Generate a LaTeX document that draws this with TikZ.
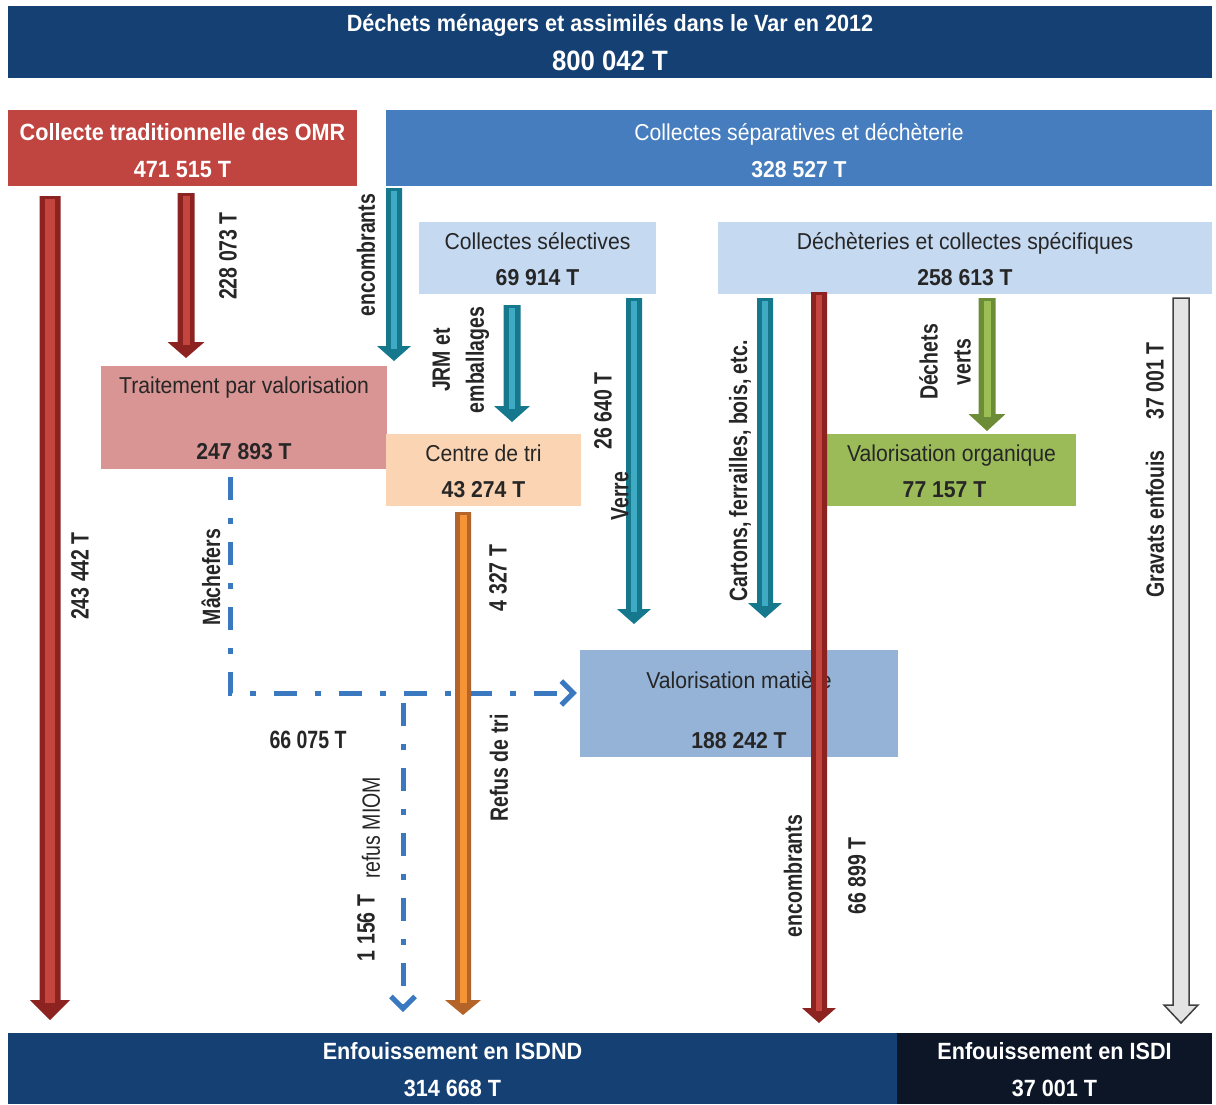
\documentclass[tikz,border=0pt]{standalone}
\usepackage{fontspec}
\setmainfont{Liberation Sans}[FakeStretch=0.92]
\newfontfamily\labfont{Liberation Sans}[FakeStretch=0.78]
\usetikzlibrary{calc,arrows.meta}
\definecolor{titleblue}{RGB}{20,64,115}
\definecolor{isdidark}{RGB}{12,22,38}
\definecolor{omrred}{RGB}{192,68,64}
\definecolor{sepblue}{RGB}{70,125,190}
\definecolor{lightblue}{RGB}{197,217,241}
\definecolor{pinkbox}{RGB}{217,149,148}
\definecolor{peach}{RGB}{251,212,180}
\definecolor{orggreen}{RGB}{155,187,89}
\definecolor{matblue}{RGB}{149,179,215}
\definecolor{txtdark}{RGB}{38,38,38}
\definecolor{dashblue}{RGB}{58,120,192}
\definecolor{redout}{RGB}{140,35,32}
\definecolor{redin}{RGB}{196,68,62}
\definecolor{tealout}{RGB}{22,120,140}
\definecolor{tealin}{RGB}{62,170,196}
\definecolor{greenout}{RGB}{108,140,55}
\definecolor{greenin}{RGB}{155,190,85}
\definecolor{orangeout}{RGB}{180,100,40}
\definecolor{orangein}{RGB}{245,148,55}
\newcommand\bxstrut[1][28]{\rule[-5pt]{0pt}{#1pt}}
% #1 start, #2 tip, #3 outer, #4 inner, #5 half shaft, #6 half head, #7 head length, #8 half inner stripe
\newcommand\blockarrow[8]{%
  \fill[#3] ($(#1)+(-#5,0)$) -- ($(#1)+(#5,0)$) -- ($(#2)+(#5,-#7)$) -- ($(#2)+(#6,-#7)$) -- (#2) -- ($(#2)+(-#6,-#7)$) -- ($(#2)+(-#5,-#7)$) -- cycle;
  \fill[#4] ($(#1)+(-#8,3)$) rectangle ($(#2)+(#8,-#7+3)$);
}
\begin{document}
\begin{tikzpicture}[x=1pt,y=-1pt,
  box/.style={rectangle, inner sep=0pt, align=center},
  lab/.style={inner sep=0pt, text=txtdark, font={\labfont\fontsize{25}{30}\selectfont\bfseries}},
  labreg/.style={inner sep=0pt, text=txtdark, font={\labfont\fontsize{25}{30}\selectfont}},
  dashdot/.style={draw=dashblue, line width=5pt, dash pattern=on 23pt off 18pt on 6pt off 18pt},
  barb/.tip={Straight Barb[length=12pt,width=24pt]}
]
\useasboundingbox (0,0) rectangle (1216,1104);

% ---------- boxes ----------
\node[box, fill=titleblue, minimum width=1204pt, minimum height=72pt, text=white,
      font=\fontsize{23.5}{39}\selectfont\bfseries] (title) at (610,42)
  {\bxstrut Déchets ménagers et assimilés dans le Var en 2012\\{\fontsize{28}{39}\selectfont 800 042 T\bxstrut}};

\node[box, fill=omrred, minimum width=349pt, minimum height=76pt, text=white,
      font=\fontsize{23.5}{37}\selectfont\bfseries] (omr) at (182.5,148)
  {\bxstrut[31]Collecte traditionnelle des OMR\\471 515 T\bxstrut};

\node[box, fill=sepblue, minimum width=826pt, minimum height=76pt, text=white,
      font=\fontsize{23}{37}\selectfont] (sep) at (799,148)
  {\bxstrut[31]Collectes séparatives et déchèterie\\\textbf{328 527 T}\bxstrut};

\node[box, fill=lightblue, minimum width=237pt, minimum height=72pt, text=txtdark,
      font=\fontsize{23}{36}\selectfont] (sel) at (537.5,258)
  {\bxstrut Collectes sélectives\\\textbf{69 914 T}\bxstrut};

\node[box, fill=lightblue, minimum width=494pt, minimum height=72pt, text=txtdark,
      font=\fontsize{23}{36}\selectfont] (dech) at (965,258)
  {\bxstrut Déchèteries et collectes spécifiques\\\textbf{258 613 T}\bxstrut};

\node[box, fill=pinkbox, minimum width=286pt, minimum height=103pt, text=txtdark,
      font=\fontsize{23}{66}\selectfont] (tv) at (244,417.5)
  {\bxstrut Traitement par valorisation\\\textbf{247 893 T}\bxstrut};

\node[box, fill=peach, minimum width=195pt, minimum height=72pt, text=txtdark,
      font=\fontsize{23}{36}\selectfont] (ct) at (483.5,470)
  {\bxstrut Centre de tri\\\textbf{43 274 T}\bxstrut};

\node[box, fill=orggreen, minimum width=249pt, minimum height=72pt, text=txtdark,
      font=\fontsize{23}{36}\selectfont] (vo) at (951.5,470)
  {\bxstrut Valorisation organique\hspace{14pt}\\\textbf{77 157 T}\hspace{14pt}\bxstrut};

\node[box, fill=matblue, minimum width=318pt, minimum height=107pt, text=txtdark,
      font=\fontsize{23}{60}\selectfont] (vm) at (739,703.5)
  {\bxstrut[39]Valorisation matière\\\textbf{188 242 T}\bxstrut};

\node[box, fill=titleblue, minimum width=889pt, minimum height=71pt, text=white,
      font=\fontsize{23.5}{37}\selectfont\bfseries] (isdnd) at (452.5,1068.5)
  {\bxstrut Enfouissement en ISDND\\314 668 T\bxstrut};

\node[box, fill=isdidark, minimum width=315pt, minimum height=71pt, text=white,
      font=\fontsize{23.5}{37}\selectfont\bfseries] (isdi) at (1054.5,1068.5)
  {\bxstrut Enfouissement en ISDI\\37 001 T\bxstrut};

% ---------- arrow end points ----------
\coordinate (a1s) at (50,196);   \coordinate (a1e) at (50,1020);
\coordinate (a2s) at (186,193);  \coordinate (a2e) at (186,358);
\coordinate (a3s) at (394,188);  \coordinate (a3e) at (394,361);
\coordinate (a4s) at (512,305);  \coordinate (a4e) at (512,422);
\coordinate (a5s) at (634,298);  \coordinate (a5e) at (634,624);
\coordinate (a6s) at (765,298);  \coordinate (a6e) at (765,618);
\coordinate (a7s) at (819,292);  \coordinate (a7e) at (819,1023);
\coordinate (a8s) at (987,298);  \coordinate (a8e) at (987,431);
\coordinate (a9s) at (1181,298); \coordinate (a9e) at (1181,1023);
\coordinate (a10s) at (463,512); \coordinate (a10e) at (463,1015);
\coordinate (m1) at (230,477);   \coordinate (m2) at (230,693);
\coordinate (m3) at (403,703);   \coordinate (m4) at (403,1012);

% ---------- dash-dot flows ----------
\draw[dashdot, -barb, shorten >=3pt] (m1) -- (m2) -- (m2 -| vm.west);
\draw[dashdot, -barb] (m3) -- (m4);

% ---------- block arrows ----------
\blockarrow{a1s}{a1e}{redout}{redin}{10.5}{20}{20}{5}
\blockarrow{a2s}{a2e}{redout}{redin}{8.5}{18.5}{16}{3.5}
\blockarrow{a3s}{a3e}{tealout}{tealin}{8}{17}{15}{3}
\blockarrow{a4s}{a4e}{tealout}{tealin}{8.5}{18}{16}{3}
\blockarrow{a5s}{a5e}{tealout}{tealin}{8}{17}{15}{3}
\blockarrow{a6s}{a6e}{tealout}{tealin}{8}{17}{15}{3}
\blockarrow{a8s}{a8e}{greenout}{greenin}{8.5}{18.5}{17}{3.5}
\blockarrow{a10s}{a10e}{orangeout}{orangein}{8}{18}{15}{3.5}
\blockarrow{a7s}{a7e}{redout}{redin}{8}{17}{15}{3}
\filldraw[fill=gray!22, draw=black!75, line width=1.5pt, line join=miter]
  ($(a9s)+(-8,0)$) -- ($(a9s)+(8,0)$) -- ($(a9e)+(8,-18)$) -- ($(a9e)+(17,-18)$) -- (a9e)
  -- ($(a9e)+(-17,-18)$) -- ($(a9e)+(-8,-18)$) -- cycle;

% ---------- labels ----------
\node[lab, rotate=90] (l1) at (228,256) {228 073 T};
\node[lab, rotate=90] (l2) at (366,255) {encombrants};
\node[lab, rotate=90, align=center, font={\labfont\fontsize{25}{34}\selectfont\bfseries}] (l3) at (461,360) {JRM et\\emballages};
\node[lab, rotate=90] (l4) at (603,411) {26 640 T};
\node[lab, rotate=90] (l5) at (620,496) {Verre};
\node[lab, rotate=90] (l6) at (740,471) {Cartons, ferrailles, bois, etc.};
\node[lab, rotate=90, align=center, font={\labfont\fontsize{25}{33}\selectfont\bfseries}] (l7) at (945,362) {Déchets\\verts};
\node[lab, rotate=90] (l8) at (1155,381) {37 001 T};
\node[lab, rotate=90] (l9) at (1155,524) {Gravats enfouis};
\node[lab, rotate=90] (l10) at (80,576) {243 442 T};
\node[lab, rotate=90] (l11) at (211,577) {Mâchefers};
\node[lab] (l12) at (308,740) {66 075 T};
\node[lab, rotate=90] (l13) at (498,578) {4 327 T};
\node[lab, rotate=90] (l14) at (499,768) {Refus de tri};
\node[labreg, rotate=90] (l15) at (371,828) {refus MIOM};
\node[lab, rotate=90] (l16) at (366,928) {1 156 T};
\node[lab, rotate=90] (l17) at (793,876) {encombrants};
\node[lab, rotate=90] (l18) at (857,876) {66 899 T};
\end{tikzpicture}
\end{document}
